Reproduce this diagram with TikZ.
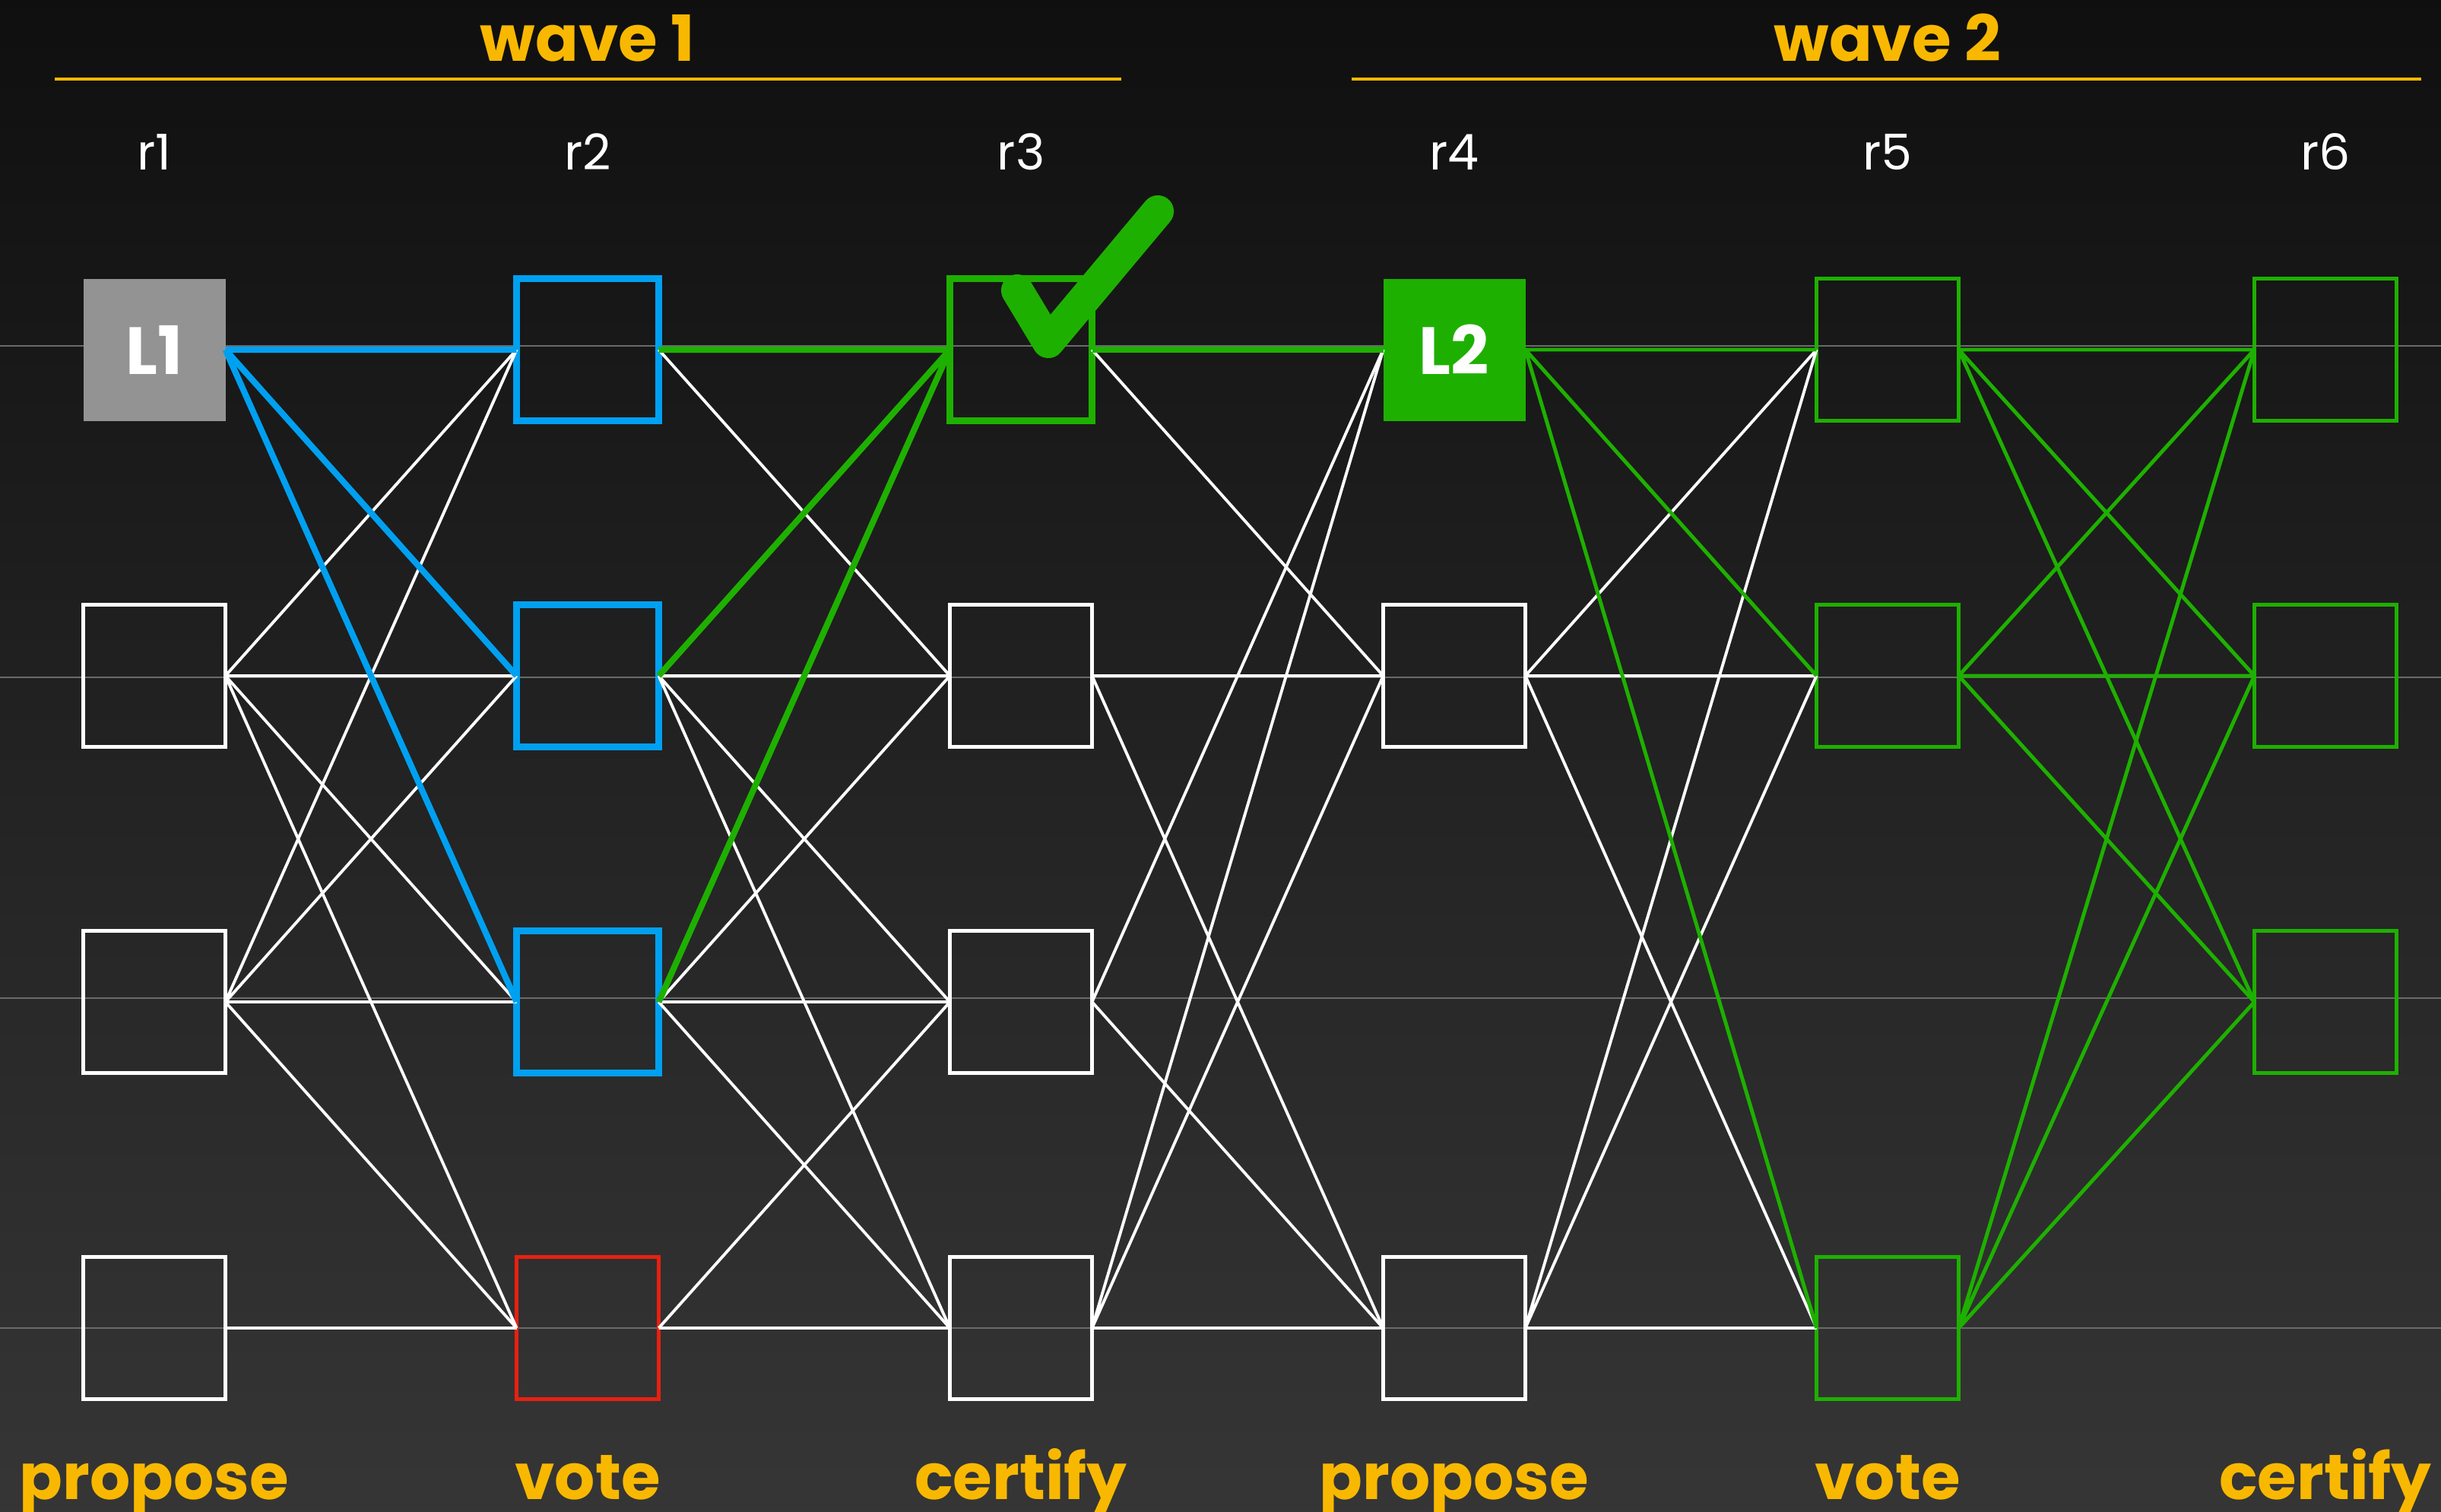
\documentclass[tikz,border=0pt]{standalone}
\usepackage{fontspec}
\setmainfont{Poppins}
\usepackage{tikz}
\usetikzlibrary{positioning}

\definecolor{wavegold}{HTML}{F9B800}
\definecolor{okgreen}{HTML}{1EB000}
\definecolor{voteblue}{HTML}{00A0F0}
\definecolor{badred}{HTML}{E82010}
\definecolor{leadgray}{HTML}{939393}
\definecolor{rowgray}{HTML}{6A6A6A}

\begin{document}
\begin{tikzpicture}[
    node distance=2.42cm and 3.83cm,
    box/.style={rectangle, draw=white, line width=1.3pt, minimum size=1.87cm, inner sep=0pt, outer sep=0pt},
    leader/.style={box, draw=none, text=white, font=\bfseries\fontsize{25}{25}\selectfont},
    bluebox/.style={box, draw=voteblue, line width=2.8pt},
    redbox/.style={box, draw=badred, line width=1.4pt},
    okbox/.style={box, draw=okgreen, line width=2.6pt},
    greenbox/.style={box, draw=okgreen, line width=1.5pt},
    round/.style={text=white, anchor=base, font=\fontsize{18.5}{22}\selectfont},
    phase/.style={text=wavegold, anchor=base, font=\bfseries\fontsize{23.8}{28}\selectfont},
    wire/.style={white, line width=1.1pt},
    bluewire/.style={voteblue, line width=2.3pt},
    okwire/.style={okgreen, line width=2.3pt},
    greenwire/.style={okgreen, line width=1.4pt}
]
    % background and row guides
    \shade[top color=black!94, bottom color=black!79] (0,0) rectangle (32.11,-19.88);
    \useasboundingbox (0,0) rectangle (32.11,-19.88);
    \foreach \y in {4.55,8.91,13.13,17.47}
        \draw[rowgray, line width=0.6pt] (0,-\y) -- (32.11,-\y);

    % round 1
    \node[leader, fill=leadgray] (r1a) at (2.03,-4.6) {L1};
    \node[box, below=of r1a] (r1b) {};
    \node[box, below=of r1b] (r1c) {};
    \node[box, below=of r1c] (r1d) {};
    % round 2
    \node[bluebox, right=of r1a] (r2a) {};
    \node[bluebox, right=of r1b] (r2b) {};
    \node[bluebox, right=of r1c] (r2c) {};
    \node[redbox, right=of r1d] (r2d) {};
    % round 3
    \node[okbox, right=of r2a] (r3a) {};
    \node[box, right=of r2b] (r3b) {};
    \node[box, right=of r2c] (r3c) {};
    \node[box, right=of r2d] (r3d) {};
    % round 4
    \node[leader, fill=okgreen, right=of r3a] (r4a) {L2};
    \node[box, right=of r3b] (r4b) {};
    \node[box, right=of r3d] (r4d) {};
    % round 5
    \node[greenbox, right=of r4a] (r5a) {};
    \node[greenbox, right=of r4b] (r5b) {};
    \node[greenbox, right=of r4d] (r5d) {};
    % round 6
    \node[greenbox, right=3.89cm of r5a] (r6a) {};
    \node[greenbox, below=of r6a] (r6b) {};
    \node[greenbox, below=of r6b] (r6c) {};

    % headings
    \node[phase] (w1) at (r2a |- 0,-0.80) {wave 1};
    \node[phase] (w2) at (r5a |- 0,-0.80) {wave 2};
    \draw[wavegold, line width=1.4pt] (0.72,-1.04) -- (14.75,-1.04);
    \draw[wavegold, line width=1.4pt] (17.78,-1.04) -- (31.85,-1.04);
    \foreach \c/\t in {r1a/r1, r2a/r2, r3a/r3, r4a/r4, r5a/r5, r6a/r6}
        \node[round] (lbl\t) at (\c |- 0,-2.23) {\t};
    \node[phase] (p1) at (r1a |- 0,-19.72) {propose};
    \node[phase] (v1) at (r2a |- 0,-19.72) {vote};
    \node[phase] (c1) at (r3a |- 0,-19.72) {certify};
    \node[phase] (p2) at (r4a |- 0,-19.72) {propose};
    \node[phase] (v2) at (r5a |- 0,-19.72) {vote};
    \node[phase] (c2) at (r6a |- 0,-19.72) {certify};

    % plain references
    \draw[wire] (r1b.east) -- (r2a.west) (r1b.east) -- (r2b.west) (r1b.east) -- (r2c.west) (r1b.east) -- (r2d.west);
    \draw[wire] (r1c.east) -- (r2a.west) (r1c.east) -- (r2b.west) (r1c.east) -- (r2c.west) (r1c.east) -- (r2d.west);
    \draw[wire] (r1d.east) -- (r2d.west);
    \draw[wire] (r2a.east) -- (r3b.west);
    \draw[wire] (r2b.east) -- (r3b.west) (r2b.east) -- (r3c.west) (r2b.east) -- (r3d.west);
    \draw[wire] (r2c.east) -- (r3b.west) (r2c.east) -- (r3c.west) (r2c.east) -- (r3d.west);
    \draw[wire] (r2d.east) -- (r3c.west) (r2d.east) -- (r3d.west);
    \draw[wire] (r3a.east) -- (r4b.west);
    \draw[wire] (r3b.east) -- (r4b.west) (r3b.east) -- (r4d.west);
    \draw[wire] (r3c.east) -- (r4a.west) (r3c.east) -- (r4d.west);
    \draw[wire] (r3d.east) -- (r4a.west) (r3d.east) -- (r4b.west) (r3d.east) -- (r4d.west);
    \draw[wire] (r4b.east) -- (r5a.west) (r4b.east) -- (r5b.west) (r4b.east) -- (r5d.west);
    \draw[wire] (r4d.east) -- (r5a.west) (r4d.east) -- (r5b.west) (r4d.east) -- (r5d.west);

    % votes for L1, certificates, and wave 2
    \draw[bluewire] (r1a.east) -- (r2a.west) (r1a.east) -- (r2b.west) (r1a.east) -- (r2c.west);
    \draw[okwire] (r2a.east) -- (r3a.west) (r2b.east) -- (r3a.west) (r2c.east) -- (r3a.west);
    \draw[okwire] (r3a.east) -- (r4a.west);
    \draw[greenwire] (r4a.east) -- (r5a.west) (r4a.east) -- (r5b.west) (r4a.east) -- (r5d.west);
    \draw[greenwire] (r5a.east) -- (r6a.west) (r5a.east) -- (r6b.west) (r5a.east) -- (r6c.west);
    \draw[greenwire] (r5b.east) -- (r6a.west) (r5b.east) -- (r6b.west) (r5b.east) -- (r6c.west);
    \draw[greenwire] (r5d.east) -- (r6a.west) (r5d.east) -- (r6b.west) (r5d.east) -- (r6c.west);

    % tick on the certified anchor
    \draw[okgreen, line width=12pt, line cap=round, line join=round]
        ([shift={(-0.05,0.78)}]r3a.center) -- ([shift={(0.36,0.10)}]r3a.center) -- ([shift={(1.80,1.82)}]r3a.center);
\end{tikzpicture}
\end{document}
